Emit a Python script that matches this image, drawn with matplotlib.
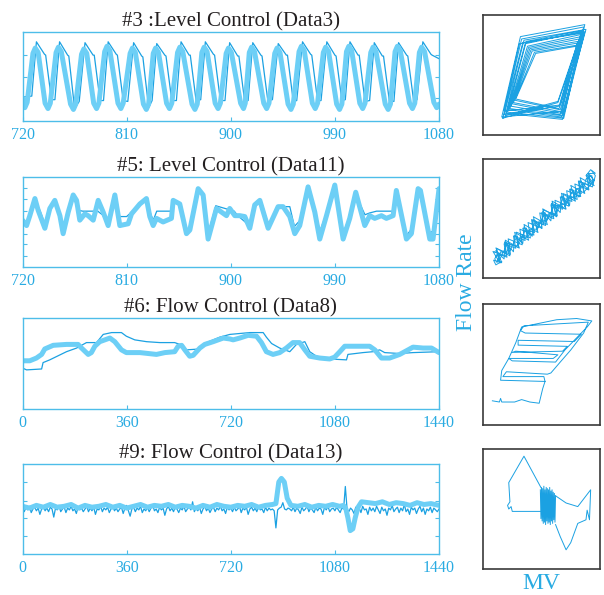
import numpy as np
import matplotlib.pyplot as plt

plt.rcParams['font.family'] = ['Liberation Serif', 'DejaVu Serif']

thick_c = '#6dcff6'
thin_c = '#1ba1e2'
axis_c = '#4dbde9'
label_c = '#29abe2'

# ---- #3 Level Control (Data3) ----
p1_thick_x = [720, 722, 724, 729, 731, 733.5,
              739.5, 742, 744, 749, 751, 753.5,
              761.5, 764, 766, 771, 773, 775.5,
              781.5, 784, 786, 791, 793, 795.5,
              802.5, 805, 807, 813, 815, 817.5,
              824.5, 827, 829, 833, 835, 837.5,
              844.5, 847, 849, 854, 856, 858.5,
              866.5, 869, 871, 875, 877, 879.5,
              886.5, 889, 891, 896, 898, 900.5,
              908.5, 911, 912.5, 916, 918, 920.5,
              928.5, 931, 933, 938, 940, 942.5,
              949.5, 952, 954, 959, 961, 963.5,
              970.5, 973, 975, 980, 982, 984.5,
              991.5, 994, 996, 1000, 1002, 1004.5,
              1011.5, 1014, 1016, 1021, 1023, 1025.5,
              1033.5, 1036, 1038, 1042, 1044, 1046.5,
              1054.5, 1057, 1059, 1063, 1065, 1067.5,
              1075.5, 1078, 1080]
p1_thick_y = [0.26, 0.15, 0.21, 0.76, 0.82, 0.77,
              0.20, 0.14, 0.20, 0.77, 0.83, 0.78,
              0.19, 0.13, 0.19, 0.75, 0.81, 0.76,
              0.20, 0.14, 0.20, 0.78, 0.84, 0.79,
              0.20, 0.14, 0.20, 0.76, 0.82, 0.77,
              0.19, 0.13, 0.19, 0.76, 0.82, 0.77,
              0.20, 0.14, 0.20, 0.77, 0.83, 0.78,
              0.19, 0.13, 0.19, 0.77, 0.83, 0.78,
              0.20, 0.14, 0.20, 0.76, 0.82, 0.77,
              0.20, 0.14, 0.20, 0.77, 0.83, 0.78,
              0.20, 0.14, 0.20, 0.76, 0.82, 0.77,
              0.19, 0.13, 0.19, 0.78, 0.84, 0.79,
              0.20, 0.14, 0.20, 0.77, 0.83, 0.78,
              0.19, 0.13, 0.19, 0.78, 0.84, 0.79,
              0.20, 0.14, 0.20, 0.77, 0.83, 0.78,
              0.19, 0.13, 0.19, 0.78, 0.84, 0.79,
              0.20, 0.14, 0.20, 0.77, 0.83, 0.78,
              0.21, 0.15, 0.19]
p1_thin_x = [720, 728, 732, 739, 740, 745, 748, 752, 759, 760, 765, 769, 774, 781, 782, 787, 790,
             794, 801, 802, 807, 811, 816, 823, 824, 829, 832, 836, 843, 844, 849, 853, 857, 864,
             865, 870, 874, 878, 885, 886, 891, 895, 899, 906, 907, 912, 915, 919, 926, 927, 932,
             936, 941, 948, 949, 954, 957, 962, 969, 970, 975, 978, 983, 990, 991, 996, 999, 1003,
             1010, 1011, 1016, 1020, 1024, 1031, 1032, 1037, 1041, 1045, 1052, 1053, 1058, 1061,
             1066, 1073, 1074, 1080]
p1_thin_y = [0.27,
             0.28, 0.89, 0.75, 0.74, 0.24, 0.24, 0.89, 0.74, 0.73, 0.14,
             0.22, 0.88, 0.74, 0.74, 0.23, 0.23, 0.89, 0.75, 0.74, 0.23,
             0.22, 0.88, 0.73, 0.72, 0.15, 0.23, 0.87, 0.74, 0.73, 0.23,
             0.23, 0.89, 0.74, 0.74, 0.23, 0.24, 0.89, 0.75, 0.74, 0.23,
             0.23, 0.88, 0.73, 0.73, 0.22, 0.23, 0.88, 0.74, 0.73, 0.23,
             0.24, 0.87, 0.74, 0.74, 0.22, 0.23, 0.89, 0.75, 0.74, 0.23,
             0.23, 0.89, 0.74, 0.73, 0.23, 0.24, 0.89, 0.74, 0.74, 0.22,
             0.23, 0.88, 0.73, 0.73, 0.23, 0.22, 0.88, 0.74, 0.73, 0.23,
             0.24, 0.89, 0.75, 0.74,
             0.70]

# ---- #5 Level Control (Data11) ----
p2_thick_x = [720, 723.5, 726.3, 730.7, 733.5, 739.3, 743.6, 747.9, 752.3, 755.1, 759.5, 763.8,
              766.7, 769.5, 773.9, 776.7, 781.1, 785.4, 789.7, 794, 799.8, 804.1, 811.3, 814.2,
              821.4, 827.1, 830, 832.9, 835.8, 841.5, 848.7, 850.2, 855.9, 861.7, 864.6, 871.8,
              876.1, 880.4, 887.6, 891.9, 896.3, 899.1, 903.5, 907.8, 912.1, 916.4, 920.7, 925.1,
              932.3, 940.9, 945.2, 951, 955.3, 959.6, 966.8, 972.6, 976.9, 982.7, 989.9, 997.1,
              1002.8, 1008, 1015.8, 1020.1, 1024.4, 1030.2, 1034.5, 1040.3, 1043.1, 1051.8,
              1056.1, 1061.9, 1063.9, 1072, 1074.8, 1080]
p2_thick_y = [0.52, 0.46, 0.57, 0.76, 0.63, 0.43, 0.65, 0.74, 0.57, 0.37, 0.61, 0.80, 0.74, 0.52,
              0.59, 0.57, 0.52, 0.74, 0.61, 0.46, 0.80, 0.46, 0.48, 0.59, 0.70, 0.76, 0.56, 0.46,
              0.54, 0.50, 0.54, 0.74, 0.70, 0.37, 0.41, 0.87, 0.80, 0.31, 0.65, 0.61, 0.57, 0.65,
              0.57, 0.57, 0.56, 0.43, 0.69, 0.74, 0.43, 0.67, 0.67, 0.56, 0.37, 0.46, 0.89, 0.61,
              0.31, 0.57, 0.91, 0.31, 0.54, 0.83, 0.46, 0.57, 0.54, 0.57, 0.54, 0.57, 0.85, 0.31,
              0.37, 0.87, 0.85, 0.31, 0.31, 0.87]
p2_thin_x = [720, 723, 727, 731, 735, 740, 744, 748, 752, 755, 760, 764, 768, 772, 785, 789, 794,
             800, 804, 810, 815, 822, 827, 831, 833, 836, 849, 850, 856, 862, 865, 872, 876, 880,
             887, 903, 906, 917, 921, 926, 933, 941, 951, 955, 960, 967, 973, 977, 983, 990, 997,
             1003, 1008, 1016, 1020, 1026, 1041, 1043, 1052, 1056, 1062, 1064, 1072, 1075, 1080]
p2_thin_y = [0.55, 0.48, 0.58, 0.72, 0.63, 0.45, 0.64, 0.72, 0.60, 0.40, 0.62, 0.78, 0.63, 0.62,
             0.62, 0.58, 0.48, 0.77, 0.56, 0.56, 0.62, 0.70, 0.75, 0.58, 0.52, 0.62, 0.62, 0.72,
             0.70, 0.40, 0.45, 0.84, 0.78, 0.35, 0.68, 0.62, 0.57, 0.45, 0.67, 0.74, 0.45, 0.67,
             0.67, 0.45, 0.52, 0.86, 0.62, 0.40, 0.60, 0.83, 0.38, 0.56, 0.80, 0.58, 0.60, 0.62,
             0.62, 0.82, 0.35, 0.42, 0.84, 0.83, 0.38, 0.40, 0.84]

# ---- #6 Flow Control (Data8) ----
p3_thick_x = [0, 25, 48, 66, 77, 106, 152, 192, 204, 227, 238, 250, 267, 302, 319, 342, 359, 406,
              463, 492, 526, 538, 550, 561, 578, 590, 613, 630, 659, 694, 717, 728, 751, 780, 809,
              826, 843, 866, 889, 912, 935, 958, 976, 993, 1028, 1062, 1079, 1097, 1114, 1166,
              1200, 1218, 1241, 1269, 1304, 1333, 1350, 1385, 1414, 1440]
p3_thick_y = [0.53, 0.53, 0.56, 0.60, 0.66, 0.70, 0.71, 0.71, 0.67, 0.60, 0.62, 0.69, 0.74, 0.78,
              0.74, 0.65, 0.62, 0.62, 0.60, 0.62, 0.63, 0.69, 0.70, 0.65, 0.58, 0.59, 0.67, 0.71,
              0.74, 0.78, 0.77, 0.76, 0.78, 0.81, 0.80, 0.73, 0.63, 0.60, 0.62, 0.67, 0.73, 0.73,
              0.65, 0.58, 0.56, 0.55, 0.57, 0.63, 0.69, 0.69, 0.69, 0.65, 0.56, 0.56, 0.60, 0.65,
              0.68, 0.67, 0.67, 0.62]
p3_thin_x = [0, 14, 66, 71, 94, 152, 187, 221, 256, 279, 308, 342, 359, 388, 429, 475, 526, 544,
             567, 613, 636, 682, 717, 751, 786, 832, 843, 861, 889, 924, 947, 976, 993, 1016, 1062,
             1120, 1125, 1177, 1212, 1235, 1252, 1304, 1350, 1440]
p3_thin_y = [0.45, 0.43, 0.44, 0.51, 0.54, 0.63, 0.67, 0.73, 0.73, 0.82, 0.84, 0.84, 0.80, 0.76,
             0.74, 0.73, 0.73, 0.71, 0.65, 0.66, 0.73, 0.79, 0.82, 0.83, 0.84, 0.84, 0.79, 0.72,
             0.67, 0.63, 0.71, 0.74, 0.63, 0.58, 0.55, 0.54, 0.60, 0.62, 0.63, 0.65, 0.62, 0.61,
             0.62, 0.63]

# ---- #9 Flow Control (Data13) ----
p4_thick_x = [0, 24, 48, 72, 96, 120, 144, 168, 192, 216, 240, 264, 288, 312, 336, 360, 384, 408,
              432, 456, 480, 504, 528, 552, 576, 600, 624, 648, 672, 696, 720, 744, 768, 792, 816,
              840, 864, 876, 886, 895, 905, 915, 928, 952, 976, 1000, 1024, 1048, 1072, 1096,
              1110, 1118, 1125, 1133, 1142, 1150, 1160, 1172, 1196, 1220, 1244, 1268, 1292, 1316,
              1340, 1364, 1388, 1412, 1440]
p4_thick_y = [0.53, 0.51, 0.54, 0.52, 0.55, 0.52, 0.53, 0.55, 0.51, 0.54, 0.52, 0.53, 0.55, 0.52,
              0.54, 0.51, 0.53, 0.55, 0.52, 0.54, 0.53, 0.55, 0.52, 0.54, 0.53, 0.51, 0.54, 0.52,
              0.55, 0.53, 0.52, 0.54, 0.53, 0.55, 0.52, 0.54, 0.55, 0.56, 0.80, 0.84, 0.80, 0.62,
              0.54, 0.53, 0.55, 0.52, 0.54, 0.53, 0.55, 0.53, 0.54, 0.50, 0.40, 0.26, 0.28, 0.40,
              0.52, 0.58, 0.57, 0.56, 0.58, 0.55, 0.57, 0.56, 0.54, 0.57, 0.55, 0.56, 0.54]
p4_thin_step = 6
p4_thin_y = [0.51, 0.47, 0.52, 0.49, 0.53, 0.46, 0.50, 0.52, 0.48, 0.51, 0.44, 0.50,
             0.53, 0.48, 0.51, 0.47, 0.52, 0.50, 0.41, 0.51, 0.49, 0.54, 0.47, 0.50,
             0.52, 0.46, 0.51, 0.49, 0.53, 0.48, 0.50, 0.45, 0.52, 0.49, 0.51, 0.47,
             0.50, 0.53, 0.47, 0.51, 0.48, 0.52, 0.44, 0.50, 0.49, 0.53, 0.47, 0.51,
             0.49, 0.52, 0.46, 0.50, 0.53, 0.48, 0.51, 0.47, 0.50, 0.52, 0.45, 0.51,
             0.54, 0.48, 0.42, 0.50, 0.52, 0.47, 0.51, 0.49, 0.53, 0.46, 0.50, 0.48,
             0.52, 0.47, 0.51, 0.55, 0.48, 0.50, 0.46, 0.52, 0.49, 0.51, 0.43, 0.50,
             0.53, 0.48, 0.51, 0.47, 0.52, 0.50, 0.46, 0.51, 0.49, 0.53, 0.47, 0.50,
             0.52, 0.49, 0.58, 0.47, 0.51, 0.48, 0.52, 0.45, 0.50, 0.53, 0.48, 0.51,
             0.46, 0.50, 0.52, 0.47, 0.51, 0.49, 0.53, 0.48, 0.50, 0.45, 0.52, 0.49,
             0.51, 0.47, 0.52, 0.48, 0.50, 0.53, 0.46, 0.51, 0.49, 0.52, 0.44, 0.50,
             0.52, 0.48, 0.51, 0.47, 0.53, 0.49, 0.50, 0.46, 0.52, 0.48, 0.51, 0.49,
             0.50, 0.48, 0.29, 0.49, 0.51, 0.52, 0.57, 0.50, 0.49, 0.51, 0.50, 0.48,
             0.52, 0.47, 0.51, 0.49, 0.45, 0.52, 0.48, 0.50, 0.53, 0.47, 0.51, 0.49,
             0.46, 0.52, 0.48, 0.51, 0.50, 0.44, 0.52, 0.49, 0.53, 0.47, 0.50, 0.51,
             0.48, 0.52, 0.49, 0.46, 0.51, 0.50, 0.75, 0.50, 0.47, 0.51, 0.49, 0.45,
             0.52, 0.48, 0.51, 0.46, 0.53, 0.49, 0.50, 0.44, 0.52, 0.48, 0.51, 0.47,
             0.53, 0.49, 0.45, 0.52, 0.48, 0.50, 0.43, 0.51, 0.49, 0.54, 0.47, 0.50,
             0.52, 0.46, 0.51, 0.48, 0.55, 0.47, 0.50, 0.44, 0.52, 0.49, 0.51, 0.45,
             0.50, 0.53, 0.47, 0.51, 0.44, 0.50, 0.48, 0.52, 0.46, 0.51, 0.49, 0.47,
             0.50]
p4_thin_x = np.arange(len(p4_thin_y)) * p4_thin_step

# ---- MV vs Flow Rate (normalised) ----
r1_x = [0.17, 0.33, 0.86, 0.68, 0.20, 0.36, 0.84, 0.66, 0.24, 0.40, 0.82, 0.65, 0.28, 0.45, 0.80,
        0.64, 0.19, 0.35, 0.88, 0.67, 0.22, 0.38, 0.85, 0.69, 0.26, 0.42, 0.83, 0.66, 0.18, 0.31,
        0.87, 0.70, 0.16, 0.32, 0.87, 0.69, 0.21, 0.37, 0.85, 0.67, 0.25, 0.41, 0.81, 0.65, 0.18,
        0.34, 0.86, 0.68, 0.23, 0.39, 0.84, 0.66, 0.27, 0.44, 0.81, 0.64, 0.17]
r1_y = [0.14, 0.80, 0.90, 0.13, 0.18, 0.76, 0.86, 0.17, 0.24, 0.72, 0.80, 0.22, 0.30, 0.68, 0.74,
        0.28, 0.16, 0.79, 0.88, 0.15, 0.21, 0.74, 0.84, 0.19, 0.27, 0.70, 0.77, 0.25, 0.20, 0.76,
        0.86, 0.20, 0.15, 0.82, 0.92, 0.14, 0.19, 0.78, 0.87, 0.18, 0.26, 0.71, 0.78, 0.24, 0.17,
        0.77, 0.85, 0.16, 0.22, 0.73, 0.82, 0.21, 0.29, 0.69, 0.75, 0.27, 0.14]

r2_x = [0.11, 0.18, 0.19, 0.26, 0.27, 0.34, 0.35, 0.42, 0.43, 0.50, 0.51, 0.58, 0.59, 0.66, 0.67,
        0.74, 0.75, 0.82, 0.83, 0.90, 0.91, 0.95, 0.86, 0.85, 0.78, 0.77, 0.70, 0.69, 0.62, 0.61,
        0.54, 0.53, 0.46, 0.45, 0.38, 0.37, 0.30, 0.29, 0.22, 0.21, 0.14, 0.12, 0.10, 0.12, 0.15,
        0.20, 0.23, 0.29, 0.32, 0.37, 0.40, 0.46, 0.48, 0.54, 0.56, 0.62, 0.64, 0.70, 0.72, 0.78,
        0.80, 0.86, 0.88, 0.93, 0.94,
        0.885, 0.905, 0.785, 0.805, 0.685, 0.705, 0.585, 0.605, 0.485, 0.505, 0.385, 0.405, 0.285,
        0.305, 0.185, 0.205, 0.085, 0.145, 0.115, 0.235, 0.215, 0.335, 0.315, 0.435, 0.415, 0.535,
        0.515, 0.635, 0.615, 0.735, 0.715, 0.835, 0.815, 0.935, 0.96, 0.93]
r2_y = [0.23, 0.16, 0.30, 0.22, 0.36, 0.29, 0.43, 0.35, 0.49, 0.42, 0.56, 0.48, 0.62, 0.55, 0.69,
        0.61, 0.75, 0.68, 0.82, 0.74, 0.87, 0.82, 0.72, 0.80, 0.66, 0.74, 0.60, 0.68, 0.53, 0.61,
        0.47, 0.55, 0.40, 0.48, 0.34, 0.42, 0.27, 0.35, 0.21, 0.29, 0.15, 0.20, 0.16, 0.13, 0.22,
        0.21, 0.28, 0.27, 0.35, 0.34, 0.41, 0.41, 0.48, 0.48, 0.54, 0.54, 0.61, 0.62, 0.68, 0.68,
        0.75, 0.76, 0.83, 0.86, 0.80,
        0.871, 0.741, 0.790, 0.660, 0.709, 0.579, 0.628, 0.498, 0.547, 0.417, 0.466, 0.336, 0.385,
        0.255, 0.304, 0.174, 0.223, 0.125, 0.248, 0.198, 0.329, 0.279, 0.410, 0.360, 0.491, 0.441,
        0.572, 0.522, 0.653, 0.603, 0.734, 0.684, 0.815, 0.765, 0.86, 0.90]
r2b_x = [0.10, 0.20, 0.18, 0.28, 0.26, 0.36, 0.34, 0.44, 0.42, 0.52, 0.50, 0.60, 0.58, 0.68, 0.66,
         0.76, 0.74, 0.84, 0.82, 0.92, 0.90, 0.96, 0.92, 0.88, 0.95, 0.83, 0.87, 0.75, 0.79, 0.67,
         0.71, 0.59, 0.63, 0.51, 0.55, 0.43, 0.47, 0.35, 0.39, 0.27, 0.31, 0.19, 0.23, 0.11, 0.16,
         0.09, 0.11, 0.16]
r2b_y = [0.221, 0.184, 0.287, 0.250, 0.353, 0.315, 0.418, 0.381, 0.484, 0.447, 0.549, 0.512, 0.615,
         0.578, 0.681, 0.643, 0.746, 0.709, 0.812, 0.775, 0.877, 0.88, 0.91, 0.86, 0.776, 0.843,
         0.710, 0.778, 0.645, 0.712, 0.579, 0.646, 0.514, 0.581, 0.448, 0.515, 0.382, 0.450, 0.317,
         0.384, 0.251, 0.318, 0.186, 0.253, 0.128, 0.15, 0.11, 0.14]

r3_x = [0.08, 0.14, 0.15, 0.16, 0.27, 0.33, 0.40, 0.48, 0.51, 0.53, 0.15, 0.16, 0.22, 0.28, 0.33,
        0.48, 0.63, 0.80, 0.93, 0.89, 0.78, 0.70, 0.62, 0.25, 0.22, 0.60, 0.64, 0.28, 0.25, 0.68,
        0.72, 0.30, 0.30, 0.78, 0.84, 0.36, 0.32, 0.35, 0.90, 0.86, 0.75, 0.66, 0.58, 0.55, 0.20,
        0.17, 0.52, 0.53]
r3_y = [0.20, 0.19, 0.22, 0.19, 0.19, 0.21, 0.19, 0.18, 0.30, 0.36, 0.37, 0.45, 0.55, 0.68, 0.81,
        0.84, 0.87, 0.88, 0.86, 0.81, 0.70, 0.62, 0.52, 0.53, 0.55, 0.55, 0.58, 0.61, 0.60, 0.61,
        0.65, 0.66, 0.70, 0.69, 0.75, 0.76, 0.78, 0.82, 0.85, 0.76, 0.62, 0.52, 0.43, 0.42, 0.44,
        0.40, 0.40, 0.36]

r4_left_x = [0.51, 0.25, 0.24, 0.22, 0.21, 0.23, 0.22, 0.35, 0.50]
r4_left_y = [0.48, 0.48, 0.52, 0.50, 0.53, 0.56, 0.72, 0.94, 0.67]
r4_blk_x = [0.49, 0.495, 0.50, 0.505, 0.51, 0.515, 0.52, 0.525, 0.53, 0.535, 0.54, 0.545, 0.55,
            0.555, 0.56, 0.565, 0.57, 0.575, 0.58, 0.585, 0.59, 0.595, 0.60, 0.605, 0.61, 0.615,
            0.62]
r4_blk_y = [0.66, 0.42, 0.68, 0.40, 0.67, 0.38, 0.69, 0.39, 0.66, 0.37, 0.68, 0.40, 0.67, 0.38,
            0.66, 0.39, 0.68, 0.37, 0.65, 0.40, 0.66, 0.38, 0.64, 0.41, 0.63, 0.39, 0.61]
r4_right_x = [0.62, 0.71, 0.81, 0.92, 0.91, 0.89, 0.88, 0.81, 0.75, 0.71, 0.66, 0.62]
r4_right_y = [0.61, 0.55, 0.52, 0.66, 0.41, 0.49, 0.41, 0.38, 0.22, 0.16, 0.27, 0.37]

titles = ['#3 :Level Control (Data3)', '#5: Level Control (Data11)',
          '#6: Flow Control (Data8)', '#9: Flow Control (Data13)']
xticks_level = [720, 810, 900, 990, 1080]
xticks_flow = [0, 360, 720, 1080, 1440]

fig = plt.figure(figsize=(6.04, 5.95), dpi=100)

left_pos = [[0.0373, 0.7966, 0.6896, 0.1496],
            [0.0373, 0.5513, 0.6896, 0.1513],
            [0.0373, 0.3126, 0.6896, 0.1529],
            [0.0373, 0.0689, 0.6896, 0.1513]]
right_pos = [[0.7997, 0.7731, 0.1937, 0.2017],
             [0.7997, 0.5328, 0.1937, 0.2000],
             [0.7997, 0.2857, 0.1937, 0.2034],
             [0.7997, 0.0437, 0.1937, 0.2017]]
yticks = [[0.26, 0.50, 0.74],
          [0.12, 0.25, 0.37, 0.49, 0.62, 0.75, 0.88],
          [],
          [0.20, 0.40, 0.59, 0.80]]

series = [(p1_thin_x, p1_thin_y, p1_thick_x, p1_thick_y, xticks_level),
          (p2_thin_x, p2_thin_y, p2_thick_x, p2_thick_y, xticks_level),
          (p3_thin_x, p3_thin_y, p3_thick_x, p3_thick_y, xticks_flow),
          (p4_thin_x, p4_thin_y, p4_thick_x, p4_thick_y, xticks_flow)]

for i, (tx, ty, kx, ky, xt) in enumerate(series):
    ax = fig.add_axes(left_pos[i])
    ax.plot(tx, ty, color=thin_c, lw=0.9)
    ax.plot(kx, ky, color=thick_c, lw=3.6, solid_joinstyle='round', solid_capstyle='round')
    ax.set_xlim(xt[0], xt[-1])
    ax.set_ylim(0, 1)
    ax.set_xticks(xt)
    ax.set_yticks(yticks[i])
    ax.tick_params(direction='in', color=axis_c, length=3, labelcolor=label_c,
                   labelsize=11.5, pad=4, left=True, right=True, labelleft=False)
    for s in ax.spines.values():
        s.set_color(axis_c)
        s.set_linewidth(1.0)
    ax.set_title(titles[i], fontsize=15, color='#231f20', pad=4)

rdata = [[(r1_x, r1_y)], [(r2_x, r2_y), (r2b_x, r2b_y)], [(r3_x, r3_y)],
         [(r4_left_x, r4_left_y), (r4_blk_x, r4_blk_y), (r4_right_x, r4_right_y)]]
for i, pos in enumerate(right_pos):
    ax = fig.add_axes(pos)
    for x, y in rdata[i]:
        ax.plot(x, y, color=thin_c, lw=0.7)
    ax.set_xlim(0, 1)
    ax.set_ylim(0, 1)
    ax.set_xticks([])
    ax.set_yticks([])
    for s in ax.spines.values():
        s.set_color('#3a3a3a')
        s.set_linewidth(1.2)

fig.text(0.773, 0.525, 'Flow Rate', rotation=90, color=label_c, fontsize=17,
         ha='center', va='center')
fig.text(0.896, 0.02, 'MV', color=label_c, fontsize=17, ha='center', va='center')

fig.savefig('out.png', dpi=100)
